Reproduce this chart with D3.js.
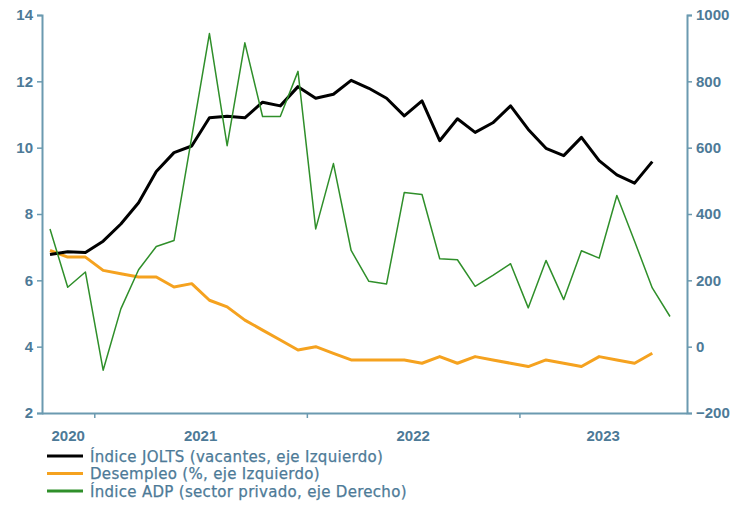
<!DOCTYPE html>
<html>
<head>
<meta charset="utf-8">
<script src="https://cdn.jsdelivr.net/npm/d3@7/dist/d3.min.js"></script>
<style>
  html, body { margin: 0; padding: 0; background: #fff; }
  svg { display: block; }
  text { font-family: "Liberation Sans", Arial, sans-serif; }
</style>
</head>
<body>
<svg id="chart" width="744" height="506"></svg>
<script>
// Monthly data, Oct 2020 – Sep 2023
const months = d3.range(36).map(i => new Date(2020, 9 + i, 1));
const years = ["2020", "2021", "2022", "2023"];
const leftTicks = [2, 4, 6, 8, 10, 12, 14];
const rightTicks = [-200, 0, 200, 400, 600, 800, 1000];

// JOLTS job openings (millions), Oct 2020 – Aug 2023
const jolts = [6.78, 6.86, 6.84, 7.18, 7.70, 8.34, 9.28, 9.85, 10.05, 10.90, 10.95, 10.90,
  11.37, 11.26, 11.84, 11.49, 11.61, 12.03, 11.79, 11.49, 10.96, 11.41, 10.21, 10.87,
  10.46, 10.75, 11.26, 10.55, 9.98, 9.76, 10.31, 9.61, 9.18, 8.93, 9.58];
// Unemployment rate (%), Oct 2020 – Aug 2023
const unemployment = [6.9, 6.7, 6.7, 6.3, 6.2, 6.1, 6.1, 5.8, 5.9, 5.4, 5.2, 4.8,
  4.5, 4.2, 3.9, 4.0, 3.8, 3.6, 3.6, 3.6, 3.6, 3.5, 3.7, 3.5,
  3.7, 3.6, 3.5, 3.4, 3.6, 3.5, 3.4, 3.7, 3.6, 3.5, 3.8];
// ADP private payrolls (thousands), Oct 2020 – Sep 2023
const adp = [355, 179, 225, -71, 114, 232, 302, 320, 632, 944, 606, 916,
  694, 694, 830, 355, 552, 290, 197, 189, 465, 459, 265, 262,
  182, 215, 250, 117, 260, 142, 289, 267, 456, 318, 177, 91];

const series = [
  { name: "Índice JOLTS (vacantes, eje Izquierdo)", values: jolts, axis: "left", color: "#000000", width: 3 },
  { name: "Desempleo (%, eje Izquierdo)", values: unemployment, axis: "left", color: "#f5a21f", width: 3 },
  { name: "Índice ADP (sector privado, eje Derecho)", values: adp, axis: "right", color: "#2f8f2a", width: 1.5 }
];

const axisColor = "#6b9ab0";
const textColor = "#4d7a97";

const svg = d3.select("#chart");
const L = 42, R = 687, T = 15, B = 413;

const x = d3.scaleLinear().domain([0, 35]).range([50, 670]);
const yL = d3.scaleLinear().domain([2, 14]).range([B, T]);
const yR = d3.scaleLinear().domain([-200, 1000]).range([B, T]);

// Left axis
const gL = svg.append("g").attr("transform", `translate(${L},0)`)
  .call(d3.axisLeft(yL).tickValues(leftTicks).tickSize(5).tickPadding(4).tickFormat(d3.format("d")));
// Right axis
const gR = svg.append("g").attr("transform", `translate(${R},0)`)
  .call(d3.axisRight(yR).tickValues(rightTicks).tickSize(5).tickPadding(4).tickFormat(d3.format("d")));

// Bottom axis: ticks at year boundaries
const boundaries = [2.5, 14.5, 26.5];
const gB = svg.append("g").attr("transform", `translate(0,${B})`)
  .call(d3.axisBottom(x).tickValues(boundaries).tickSize(5).tickFormat(""));
gB.select(".domain").attr("d", `M${L},0.5H${R}`);

[gL, gR, gB].forEach(g => {
  g.select(".domain").attr("stroke", axisColor).attr("stroke-width", 2);
  g.selectAll(".tick line").attr("stroke", axisColor).attr("stroke-width", 1.5);
  g.selectAll(".tick text").attr("fill", textColor)
    .style("font-size", "15px").style("font-weight", "bold")
    .style("font-family", "'Liberation Sans', Arial, sans-serif");
});

// Year labels centred between boundaries
const edges = [L, ...boundaries.map(b => x(b)), R];
svg.append("g").selectAll("text").data(years).join("text")
  .attr("x", (d, i) => (edges[i] + edges[i + 1]) / 2)
  .attr("y", B + 28)
  .attr("text-anchor", "middle")
  .attr("fill", textColor)
  .style("font-size", "15px").style("font-weight", "bold")
  .text(d => d);

// Lines
const drawOrder = [series[1], series[0], series[2]];
drawOrder.forEach(s => {
  const yS = s.axis === "left" ? yL : yR;
  const line = d3.line().x((d, i) => x(i)).y(d => yS(d));
  svg.append("path").datum(s.values)
    .attr("fill", "none")
    .attr("stroke", s.color)
    .attr("stroke-width", s.width)
    .attr("stroke-linejoin", "round")
    .attr("d", line);
});

// Legend
const lg = svg.append("g");
series.forEach((s, i) => {
  const yy = 456 + i * 17.5;
  lg.append("line").attr("x1", 47).attr("x2", 83).attr("y1", yy).attr("y2", yy)
    .attr("stroke", s.color).attr("stroke-width", 3);
  lg.append("text").attr("x", 90).attr("y", yy + 5.5)
    .attr("fill", textColor)
    .attr("stroke", textColor).attr("stroke-width", 0.25)
    .style("font-family", "'DejaVu Sans', sans-serif")
    .style("font-size", "15px")
    .style("letter-spacing", "0.3px")
    .text(s.name);
});
</script>
</body>
</html>
